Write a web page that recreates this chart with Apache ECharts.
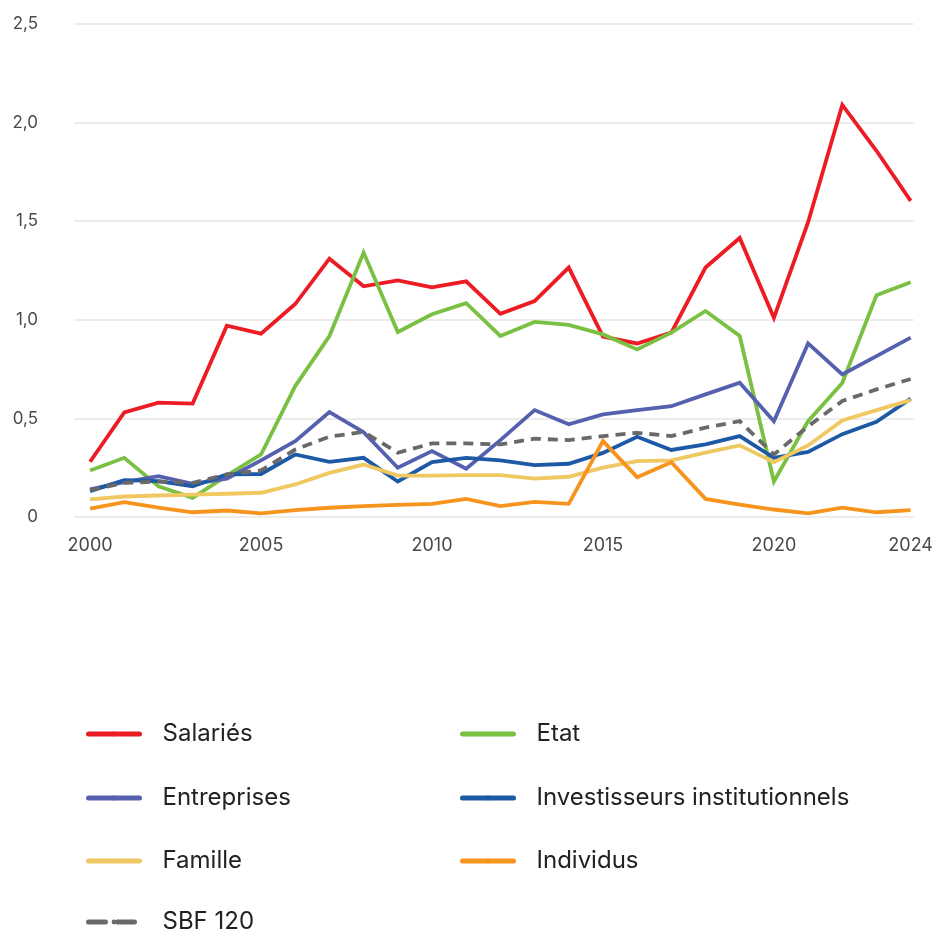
<!DOCTYPE html>
<html>
<head>
<meta charset="utf-8">
<script src="https://cdn.jsdelivr.net/npm/echarts@6/dist/echarts.min.js"></script>
<style>
  html, body { margin: 0; padding: 0; background: #fff; }
  #chart { width: 936px; height: 936px; }
</style>
</head>
<body>
<div id="chart"></div>
<script>
  const years = [2000, 2001, 2002, 2003, 2004, 2005, 2006, 2007, 2008, 2009, 2010, 2011, 2012,
    2013, 2014, 2015, 2016, 2017, 2018, 2019, 2020, 2021, 2022, 2023, 2024]
  const xTicks = [2000, 2005, 2010, 2015, 2020, 2024]

  const salaries = [0.28, 0.53, 0.58, 0.575, 0.97, 0.93, 1.08, 1.31, 1.17, 1.20, 1.165, 1.195, 1.03,
    1.095, 1.265, 0.915, 0.88, 0.935, 1.265, 1.415, 1.01, 1.495, 2.09, 1.857, 1.603]
  const etat = [0.236, 0.30, 0.156, 0.097, 0.21, 0.317, 0.664, 0.918, 1.341, 0.938, 1.028, 1.084, 0.918,
    0.989, 0.974, 0.926, 0.85, 0.935, 1.045, 0.918, 0.18, 0.486, 0.68, 1.124, 1.19]
  const entreprises = [0.14, 0.177, 0.207, 0.168, 0.194, 0.287, 0.385, 0.532, 0.43, 0.25, 0.334, 0.245, 0.39,
    0.542, 0.47, 0.52, 0.542, 0.562, 0.622, 0.681, 0.485, 0.88, 0.723, 0.816, 0.91]
  const investisseurs = [0.131, 0.187, 0.182, 0.156, 0.216, 0.218, 0.317, 0.28, 0.30, 0.18, 0.278, 0.30, 0.287,
    0.263, 0.27, 0.325, 0.407, 0.34, 0.368, 0.41, 0.30, 0.33, 0.42, 0.483, 0.60]
  const famille = [0.089, 0.104, 0.109, 0.113, 0.118, 0.123, 0.165, 0.224, 0.266, 0.21, 0.21, 0.212, 0.212,
    0.195, 0.204, 0.25, 0.283, 0.287, 0.326, 0.363, 0.278, 0.363, 0.49, 0.542, 0.593]
  const individus = [0.043, 0.075, 0.047, 0.024, 0.033, 0.018, 0.035, 0.047, 0.055, 0.062, 0.067, 0.092, 0.055,
    0.077, 0.067, 0.385, 0.202, 0.278, 0.092, 0.063, 0.038, 0.018, 0.047, 0.024, 0.035]
  const sbf120 = [0.136, 0.173, 0.18, 0.173, 0.216, 0.236, 0.342, 0.407, 0.432, 0.326, 0.373, 0.373, 0.368,
    0.397, 0.39, 0.41, 0.427, 0.41, 0.453, 0.486, 0.317, 0.46, 0.588, 0.647, 0.70]

  const FONT = 'Inter, "Noto Sans", sans-serif'

  function pairs (values) {
    return values.map((v, i) => [years[i], v])
  }

  function lineSerie (name, values, color, dashed) {
    return {
      name: name,
      type: 'line',
      data: pairs(values),
      symbol: 'none',
      silent: true,
      color: color,
      lineStyle: {
        color: color,
        width: 3.8,
        type: dashed ? [10, 7] : 'solid',
        join: 'miter'
      }
    }
  }

  // one legend per entry, laid out as two columns
  function legendItem (name, left, top, dash) {
    return {
      data: [name],
      left: left,
      top: top,
      padding: 0,
      itemWidth: 51,
      itemHeight: 6,
      lineStyle: { width: 5, cap: 'round', type: dash || 'solid' },
      textStyle: { fontFamily: FONT, fontSize: 24, color: '#222', lineHeight: 28, padding: [0, 0, 0, 18] },
      selectedMode: false
    }
  }

  const chart = echarts.init(document.getElementById('chart'))

  const options = {
    animation: false,
    backgroundColor: '#fff',
    grid: {
      left: 74,
      right: 21,
      top: 24,
      bottom: 419
    },
    legend: [
      legendItem('Salariés', 86, 720),
      legendItem('Entreprises', 86, 784),
      legendItem('Famille', 86, 847),
      legendItem('SBF 120', 86, 908, [17, 12]),
      legendItem('Etat', 460, 720),
      legendItem('Investisseurs institutionnels', 460, 784),
      legendItem('Individus', 460, 847)
    ],
    xAxis: {
      type: 'value',
      min: 1999.53,
      max: 2024.09,
      axisLine: { show: false },
      axisTick: { show: false },
      splitLine: { show: false },
      axisLabel: {
        customValues: xTicks,
        formatter: v => String(v),
        margin: 20,
        fontFamily: FONT,
        fontSize: 18,
        color: '#4a4a4a'
      }
    },
    yAxis: {
      type: 'value',
      min: 0,
      max: 2.5,
      interval: 0.5,
      axisLine: { show: false },
      axisTick: { show: false },
      splitLine: { lineStyle: { color: '#ececec', width: 2 } },
      axisLabel: {
        margin: 36,
        fontFamily: FONT,
        fontSize: 17,
        color: '#4a4a4a',
        formatter: v => v === 0 ? '0' : v.toFixed(1).replace('.', ',')
      }
    },
    series: [
      lineSerie('Salariés', salaries, '#ED1C24'),
      lineSerie('Etat', etat, '#7AC143'),
      lineSerie('Entreprises', entreprises, '#5561AE'),
      lineSerie('Investisseurs institutionnels', investisseurs, '#1D5AA6'),
      lineSerie('Famille', famille, '#F0C862'),
      lineSerie('Individus', individus, '#F7941E'),
      lineSerie('SBF 120', sbf120, '#696969', true)
    ]
  }

  chart.setOption(options)
</script>
</body>
</html>
